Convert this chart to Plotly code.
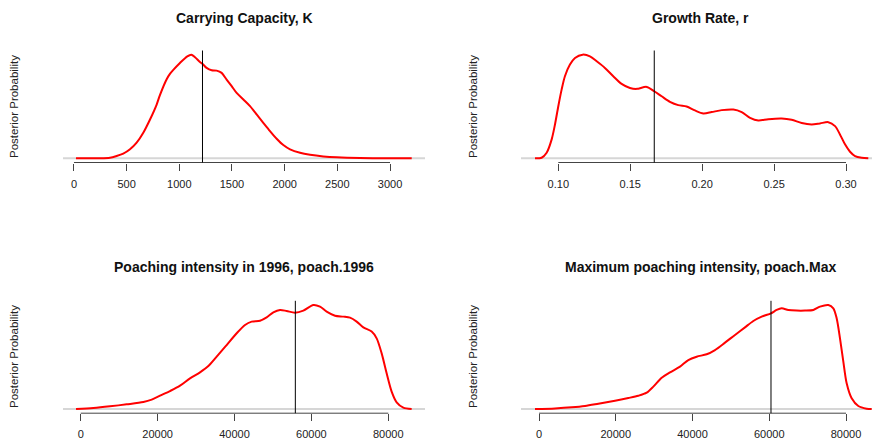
import plotly.graph_objects as go

# ---------------- data ----------------
K_x = [19, 342, 405, 468, 532, 595, 658, 722, 785, 816, 880, 911, 943, 1006, 1076, 1114, 1149, 1196,
       1221, 1259, 1307, 1354, 1402, 1449, 1497, 1544, 1608, 1671, 1734, 1797, 1861, 1924, 1987,
       2051, 2146, 2241, 2367, 2494, 2715, 3206]
K_y = [0, 0.006, 0.022, 0.045, 0.087, 0.151, 0.247, 0.375, 0.519, 0.610, 0.763, 0.814, 0.853, 0.920,
       0.984, 1.0, 0.974, 0.929, 0.910, 0.872, 0.849, 0.846, 0.824, 0.760, 0.696, 0.631, 0.567, 0.503,
       0.423, 0.343, 0.263, 0.189, 0.128, 0.087, 0.054, 0.035, 0.019, 0.010, 0.003, 0]
K_line = 1220
K_ticks = [0, 500, 1000, 1500, 2000, 2500, 3000]
K_ticktext = ["0", "500", "1000", "1500", "2000", "2500", "3000"]

r_x = [0.0838, 0.0884, 0.0919, 0.0954, 0.0977, 0.1000, 0.1023, 0.1046, 0.1081, 0.1116, 0.1169, 0.1220,
       0.1267, 0.1324, 0.1382, 0.1440, 0.1498, 0.1545, 0.1614, 0.1667, 0.1718, 0.1776, 0.1834, 0.1892,
       0.1950, 0.2008, 0.2066, 0.2136, 0.2217, 0.2275, 0.2333, 0.2390, 0.2460, 0.2553, 0.2622, 0.2692,
       0.2761, 0.2819, 0.2877, 0.2924, 0.2958, 0.2993, 0.3028, 0.3063, 0.3109, 0.3155]
r_y = [0, 0.006, 0.054, 0.183, 0.327, 0.503, 0.663, 0.792, 0.904, 0.968, 1.0, 0.984, 0.936, 0.872,
       0.792, 0.718, 0.679, 0.670, 0.689, 0.647, 0.599, 0.545, 0.513, 0.500, 0.462, 0.433, 0.446,
       0.465, 0.471, 0.446, 0.391, 0.365, 0.378, 0.385, 0.372, 0.340, 0.327, 0.337, 0.349, 0.311,
       0.231, 0.135, 0.064, 0.022, 0.006, 0]
r_line = 0.1667
r_ticks = [0.10, 0.15, 0.20, 0.25, 0.30]
r_ticktext = ["0.10", "0.15", "0.20", "0.25", "0.30"]

p96_x = [-1213, 3294, 7628, 11962, 16296, 18463, 20630, 23230, 25830, 28430, 31031, 33200, 35365,
         37965, 40566, 42733, 44467, 46634, 48367, 50101, 51835, 53569, 55736, 57903, 60503, 62237,
         63970, 66137, 68304, 70038, 71771, 73505, 75672, 76972, 78272, 79572, 80872, 82173, 83906, 86073]
p96_y = [0, 0.010, 0.026, 0.045, 0.067, 0.090, 0.128, 0.173, 0.224, 0.295, 0.353, 0.413, 0.503, 0.615,
         0.728, 0.808, 0.840, 0.849, 0.881, 0.929, 0.952, 0.942, 0.926, 0.946, 1.0, 0.984, 0.936, 0.897,
         0.888, 0.878, 0.840, 0.785, 0.744, 0.679, 0.535, 0.343, 0.167, 0.064, 0.013, 0]
p96_line = 55820
pmax_x = [-1042, 4169, 8512, 11987, 15461, 19804, 23278, 25884, 28056, 29793, 31964, 34136, 36742,
          38913, 41085, 43690, 45862, 48468, 51073, 53679, 55850, 58022, 60454, 61930, 63234, 64971,
          67142, 69314, 71485, 73222, 75394, 76697, 77566, 78434, 79303, 80171, 81474, 83211, 85383, 86686]
pmax_y = [0, 0.006, 0.016, 0.029, 0.051, 0.080, 0.106, 0.128, 0.157, 0.215, 0.301, 0.353, 0.407, 0.471,
          0.503, 0.526, 0.567, 0.638, 0.712, 0.785, 0.846, 0.888, 0.920, 0.952, 0.968, 0.952, 0.946,
          0.946, 0.952, 0.984, 1.0, 0.968, 0.872, 0.679, 0.455, 0.247, 0.103, 0.029, 0.003, 0]
pmax_line = 60454
p_ticks = [0, 20000, 40000, 60000, 80000]
p_ticktext = ["0", "20000", "40000", "60000", "80000"]

titles = ["Carrying Capacity, K", "Growth Rate, r",
          "Poaching intensity in 1996, poach.1996", "Maximum poaching intensity, poach.Max"]
y_title = "Posterior Probability"

# ---------------- layout geometry ----------------
W, H = 872, 443
left_dom = [63 / W, 425 / W]
right_dom = [521 / W, 1.0]
top_dom = [1 - 162.5 / H, 1 - 50.5 / H]
bot_dom = [1 - 413.2 / H, 1 - 300.8 / H]

panels = [
    dict(x=K_x, y=K_y, line=K_line, ticks=K_ticks, tt=K_ticktext, xr=[-104, 3332], xd=left_dom, yd=top_dom),
    dict(x=r_x, y=r_y, line=r_line, ticks=r_ticks, tt=r_ticktext, xr=[0.07407, 0.31807], xd=right_dom, yd=top_dom),
    dict(x=p96_x, y=p96_y, line=p96_line, ticks=p_ticks, tt=p_ticktext, xr=[-4603, 89545], xd=left_dom, yd=bot_dom),
    dict(x=pmax_x, y=pmax_y, line=pmax_line, ticks=p_ticks, tt=p_ticktext, xr=[-4690, 86775], xd=right_dom, yd=bot_dom),
]

FONT = "Liberation Sans, Arial, Helvetica, sans-serif"
fig = go.Figure()
layout = dict(
    width=W, height=H, margin=dict(l=0, r=0, t=0, b=0),
    paper_bgcolor="white", plot_bgcolor="white", showlegend=False,
    font=dict(family=FONT, size=11, color="#222"),
)
shapes = []
annotations = []

for i, p in enumerate(panels, start=1):
    xa = "x" if i == 1 else f"x{i}"
    ya = "y" if i == 1 else f"y{i}"
    fig.add_trace(go.Scatter(
        x=p["x"], y=p["y"], mode="lines", xaxis=xa, yaxis=ya,
        line=dict(color="#ff0000", width=2, shape="spline", smoothing=0.8),
        hoverinfo="skip"))
    layout[f"xaxis{'' if i == 1 else i}"] = dict(
        domain=p["xd"], anchor=ya, range=p["xr"], showgrid=False, zeroline=False,
        showline=False, ticks="outside", ticklen=7, tickwidth=1, tickcolor="#444",
        tickvals=p["ticks"], ticktext=p["tt"], tickfont=dict(size=11, color="#222"),
        ticklabelstandoff=4, fixedrange=True)
    layout[f"yaxis{'' if i == 1 else i}"] = dict(
        domain=p["yd"], anchor=xa, range=[-0.04, 1.04], visible=False, fixedrange=True)
    # gray zero line across the whole plotting region (below the curve)
    shapes.append(dict(type="line", xref=f"{xa} domain", yref=ya, x0=0, x1=1, y0=0, y1=0,
                       line=dict(color="#d6d6d6", width=2), layer="below"))
    # R-style axis line spanning first to last tick
    shapes.append(dict(type="line", xref=xa, yref=f"{ya} domain", x0=p["ticks"][0], x1=p["ticks"][-1],
                       y0=0, y1=0, line=dict(color="#444", width=1)))
    # vertical reference line
    shapes.append(dict(type="line", xref=xa, yref=f"{ya} domain", x0=p["line"], x1=p["line"],
                       y0=0, y1=1, line=dict(color="black", width=1)))
    # title
    cx = (p["xd"][0] + (p["xd"][1] if i in (1, 3) else 879 / W)) / 2
    ty = 1 - (18 if i <= 2 else 267) / H
    annotations.append(dict(text=f"<b>{titles[i-1]}</b>", x=cx, y=ty, xref="paper", yref="paper",
                            xanchor="center", yanchor="middle", showarrow=False,
                            font=dict(size=14, color="#111", family=FONT)))
    # y axis label
    lx = (14 if i in (1, 3) else 473) / W
    ly = 1 - (107 if i <= 2 else 357) / H
    annotations.append(dict(text=y_title, x=lx, y=ly, xref="paper", yref="paper", textangle=-90,
                            xanchor="center", yanchor="middle", showarrow=False,
                            font=dict(size=11.5, color="#222", family=FONT)))

layout["shapes"] = shapes
layout["annotations"] = annotations
fig.update_layout(**layout)
fig.write_html("out.html", config={"displayModeBar": False, "staticPlot": True},
               post_script="document.body.style.margin='0';document.body.style.overflow='hidden';")
